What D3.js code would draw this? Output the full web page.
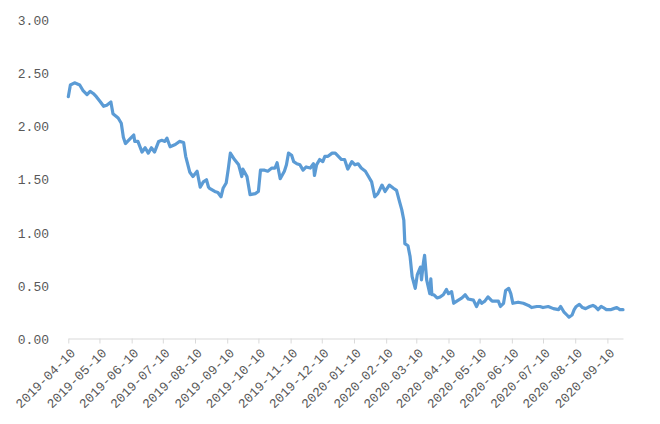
<!DOCTYPE html>
<html>
<head>
<meta charset="utf-8">
<script src="https://cdn.jsdelivr.net/npm/d3@7"></script>
<style>
  html, body { margin: 0; padding: 0; background: #ffffff; }
  svg { display: block; }
</style>
</head>
<body>
<svg id="chart" width="660" height="424"></svg>
<script>
// ---- data ----
const dates = [
  "2019-04-10","2019-04-12","2019-04-16","2019-04-21","2019-04-24","2019-04-28","2019-05-01","2019-05-04","2019-05-07","2019-05-11",
  "2019-05-14","2019-05-17","2019-05-21","2019-05-23","2019-05-28","2019-05-31","2019-06-02","2019-06-04","2019-06-07","2019-06-10",
  "2019-06-12","2019-06-13","2019-06-16","2019-06-20","2019-06-23","2019-06-26","2019-06-29","2019-07-02","2019-07-06","2019-07-09",
  "2019-07-12","2019-07-14","2019-07-17","2019-07-22","2019-07-26","2019-07-30","2019-08-01","2019-08-05","2019-08-08","2019-08-12",
  "2019-08-15","2019-08-18","2019-08-21","2019-08-23","2019-08-24","2019-08-29","2019-09-01","2019-09-04","2019-09-06","2019-09-09",
  "2019-09-11","2019-09-13","2019-09-17","2019-09-21","2019-09-24","2019-09-25","2019-09-29","2019-10-02","2019-10-07","2019-10-10",
  "2019-10-12","2019-10-16","2019-10-19","2019-10-23","2019-10-26","2019-10-28","2019-10-31","2019-11-04","2019-11-06","2019-11-08",
  "2019-11-11","2019-11-13","2019-11-16","2019-11-19","2019-11-22","2019-11-25","2019-11-29","2019-12-02","2019-12-03","2019-12-05",
  "2019-12-08","2019-12-11","2019-12-13","2019-12-16","2019-12-20","2019-12-23","2019-12-26","2019-12-29","2020-01-01","2020-01-04",
  "2020-01-08","2020-01-11","2020-01-14","2020-01-17","2020-01-21","2020-01-24","2020-01-27","2020-01-30","2020-02-02","2020-02-06",
  "2020-02-09","2020-02-13","2020-02-17","2020-02-20","2020-02-23","2020-02-25","2020-02-27","2020-02-28","2020-03-02","2020-03-04",
  "2020-03-06","2020-03-09","2020-03-11","2020-03-14","2020-03-15","2020-03-17","2020-03-18","2020-03-20","2020-03-23","2020-03-24",
  "2020-03-25","2020-03-27","2020-03-30","2020-04-02","2020-04-05","2020-04-08","2020-04-10","2020-04-13","2020-04-15","2020-04-18",
  "2020-04-23","2020-04-26","2020-04-29","2020-05-04","2020-05-07","2020-05-10","2020-05-12","2020-05-15","2020-05-18","2020-05-22",
  "2020-05-25","2020-05-28","2020-05-30","2020-06-02","2020-06-04","2020-06-07","2020-06-09","2020-06-11","2020-06-16","2020-06-21",
  "2020-06-26","2020-06-29","2020-07-04","2020-07-07","2020-07-10","2020-07-15","2020-07-20","2020-07-25","2020-07-27","2020-07-30",
  "2020-08-02","2020-08-04","2020-08-07","2020-08-09","2020-08-11","2020-08-14","2020-08-17","2020-08-20","2020-08-24","2020-08-27",
  "2020-08-29","2020-09-01","2020-09-04","2020-09-06","2020-09-09","2020-09-13","2020-09-16","2020-09-19","2020-09-22","2020-09-25"
];
const values = [
  2.28,2.39,2.41,2.39,2.34,2.30,2.33,2.31,2.28,2.23,
  2.19,2.20,2.23,2.12,2.08,2.03,1.90,1.84,1.87,1.90,
  1.92,1.86,1.86,1.76,1.80,1.75,1.80,1.76,1.86,1.87,
  1.86,1.89,1.81,1.83,1.86,1.85,1.72,1.57,1.53,1.58,
  1.43,1.48,1.50,1.43,1.42,1.39,1.38,1.34,1.42,1.47,
  1.60,1.75,1.69,1.64,1.53,1.60,1.53,1.36,1.37,1.39,
  1.59,1.59,1.58,1.61,1.61,1.66,1.51,1.58,1.64,1.75,
  1.73,1.67,1.65,1.64,1.59,1.62,1.61,1.65,1.54,1.64,
  1.69,1.67,1.72,1.72,1.75,1.75,1.72,1.69,1.69,1.60,
  1.67,1.64,1.65,1.61,1.58,1.53,1.48,1.34,1.37,1.45,
  1.39,1.45,1.42,1.40,1.29,1.22,1.12,0.90,0.88,0.78,
  0.59,0.48,0.61,0.68,0.56,0.73,0.79,0.56,0.43,0.57,
  0.42,0.42,0.39,0.40,0.42,0.47,0.43,0.45,0.34,0.36,
  0.39,0.42,0.38,0.37,0.31,0.37,0.34,0.36,0.40,0.36,
  0.36,0.36,0.31,0.34,0.46,0.48,0.43,0.34,0.35,0.34,
  0.32,0.30,0.31,0.31,0.30,0.31,0.29,0.28,0.31,0.26,
  0.23,0.21,0.23,0.28,0.31,0.33,0.30,0.29,0.31,0.32,
  0.31,0.28,0.31,0.30,0.28,0.28,0.29,0.30,0.28,0.28
];
const xTickLabels = [
  "2019-04-10","2019-05-10","2019-06-10","2019-07-10","2019-08-10","2019-09-10",
  "2019-10-10","2019-11-10","2019-12-10","2020-01-10","2020-02-10","2020-03-10",
  "2020-04-10","2020-05-10","2020-06-10","2020-07-10","2020-08-10","2020-09-10"
];
const yTicks = [0, 0.5, 1, 1.5, 2, 2.5, 3];
const xDomain = ["2019-04-10", "2020-09-25"];

// ---- drawing ----
const parse = d3.timeParse("%Y-%m-%d");
const data = dates.map((d, i) => ({ date: parse(d), value: values[i] }));

const svg = d3.select("#chart");
const x = d3.scaleTime().domain(xDomain.map(parse)).range([68.3, 623]);
const y = d3.scaleLinear().domain([0, 3]).range([339.5, 20]);

const fontFam = "'Liberation Mono', 'DejaVu Sans Mono', monospace";
const textColor = "#595959";
const axisColor = "#d9d9d9";

// Y axis (labels only)
const yAxis = d3.axisLeft(y).tickValues(yTicks).tickFormat(d3.format(".2f")).tickSize(0).tickPadding(0);
const gy = svg.append("g").attr("transform", "translate(49,0)").call(yAxis);
gy.select(".domain").remove();
gy.selectAll("text")
  .attr("font-family", fontFam).attr("font-size", 13).attr("fill", textColor);

// X axis
const xAxis = d3.axisBottom(x)
  .tickValues(xTickLabels.map(parse))
  .tickFormat(d3.timeFormat("%Y-%m-%d"))
  .tickSizeOuter(0).tickSizeInner(5);
const gx = svg.append("g").attr("transform", "translate(0,338.5)").call(xAxis);
gx.select(".domain").attr("stroke", axisColor).attr("stroke-width", 1);
gx.selectAll(".tick line").attr("stroke", axisColor);
gx.selectAll("text")
  .attr("font-family", fontFam).attr("font-size", 13).attr("fill", textColor)
  .attr("text-anchor", "end")
  .attr("y", 0).attr("dy", "0.35em")
  .attr("transform", "translate(4,12) rotate(-45)");

// Line
const line = d3.line().x(d => x(d.date)).y(d => y(d.value));
svg.append("path")
  .datum(data)
  .attr("fill", "none")
  .attr("stroke", "#5b9bd5")
  .attr("stroke-width", 3.2)
  .attr("stroke-linejoin", "round")
  .attr("stroke-linecap", "round")
  .attr("d", line);
</script>
</body>
</html>
